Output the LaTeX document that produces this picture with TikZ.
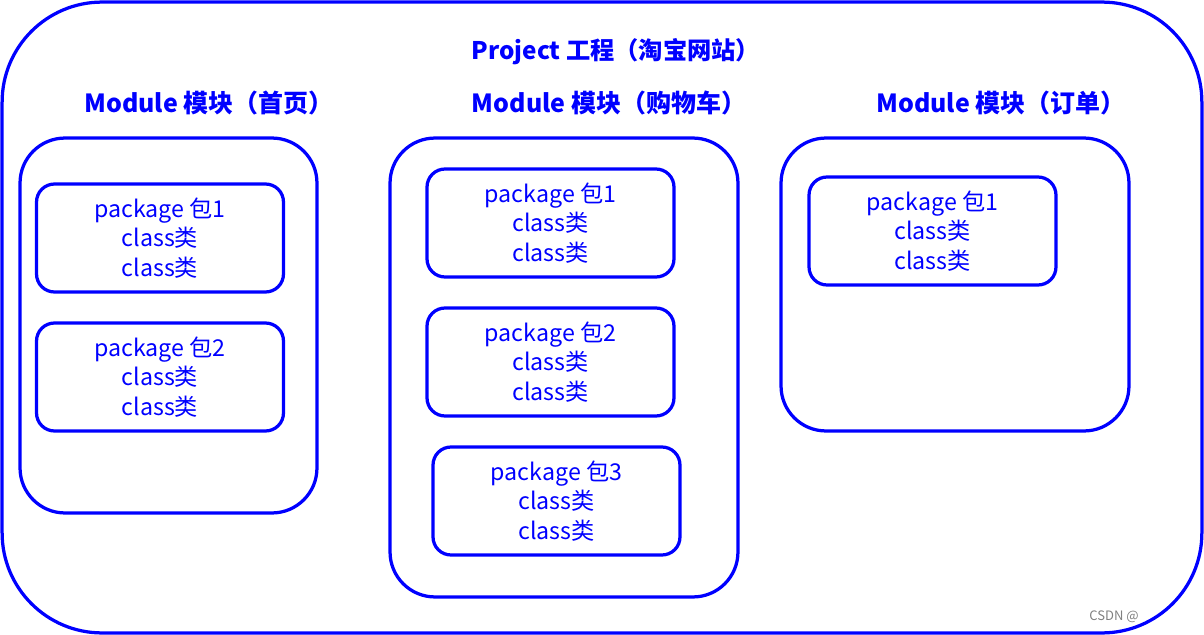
\documentclass[tikz,border=0pt]{standalone}
\usepackage{fontspec}
\setmainfont{Noto Sans CJK SC}
\usepackage{tikz}
\usetikzlibrary{positioning}
\definecolor{tbblue}{RGB}{0,0,255}

\begin{document}
\begin{tikzpicture}[x=0.02cm,y=-0.02cm,
  outerbox/.style={draw=tbblue,line width=0.065cm,rounded corners=2cm,minimum width=24cm,minimum height=12.62cm,inner sep=0pt},
  modbox/.style={draw=tbblue,line width=0.065cm,rounded corners=0.9cm,minimum width=6.96cm,inner sep=0pt},
  pkgbox/.style={draw=tbblue,line width=0.065cm,rounded corners=0.36cm,minimum width=4.94cm,minimum height=2.16cm,inner sep=0pt,text=tbblue,align=center,font=\fontsize{13.2pt}{17pt}\selectfont},
  lbl/.style={text=tbblue,font=\fontsize{14.2pt}{16pt}\selectfont\bfseries,inner sep=0pt}]
\useasboundingbox (0,0) rectangle (1204,635);
\node[outerbox] (Project) at (602,317.5){};
\node[lbl,font=\fontsize{13.8pt}{16pt}\selectfont\bfseries] (ProjectLbl) at (616,52){Project 工程（淘宝网站）};
\node[lbl] (M1Lbl) at (209,103){Module 模块（首页）};
\node[lbl] (M2Lbl) at (609,103){Module 模块（购物车）};
\node[lbl] (M3Lbl) at (1001,103){Module 模块（订单）};
\node[modbox,minimum width=5.94cm,minimum height=7.5cm] (M1) at (168.5,325.5){};
\node[modbox,minimum height=9.18cm] (M2) at (564,367.5){};
\node[modbox,minimum height=5.86cm] (M3) at (955,284.5){};
\node[pkgbox] (M1P1) at (160,238){package 包1\\class类\\class类};
\node[pkgbox] (M1P2) at (160,377){package 包2\\class类\\class类};
\node[pkgbox] (M2P1) at (550.5,223){package 包1\\class类\\class类};
\node[pkgbox] (M2P2) at (550.5,362){package 包2\\class类\\class类};
\node[pkgbox] (M2P3) at (556.5,501){package 包3\\class类\\class类};
\node[pkgbox] (M3P1) at (932.5,231){package 包1\\class类\\class类};
\node[text=gray,font=\fontsize{7.4pt}{9pt}\selectfont,anchor=west,inner sep=0pt] (Mark) at (1089,617){CSDN @};
\end{tikzpicture}
\end{document}
